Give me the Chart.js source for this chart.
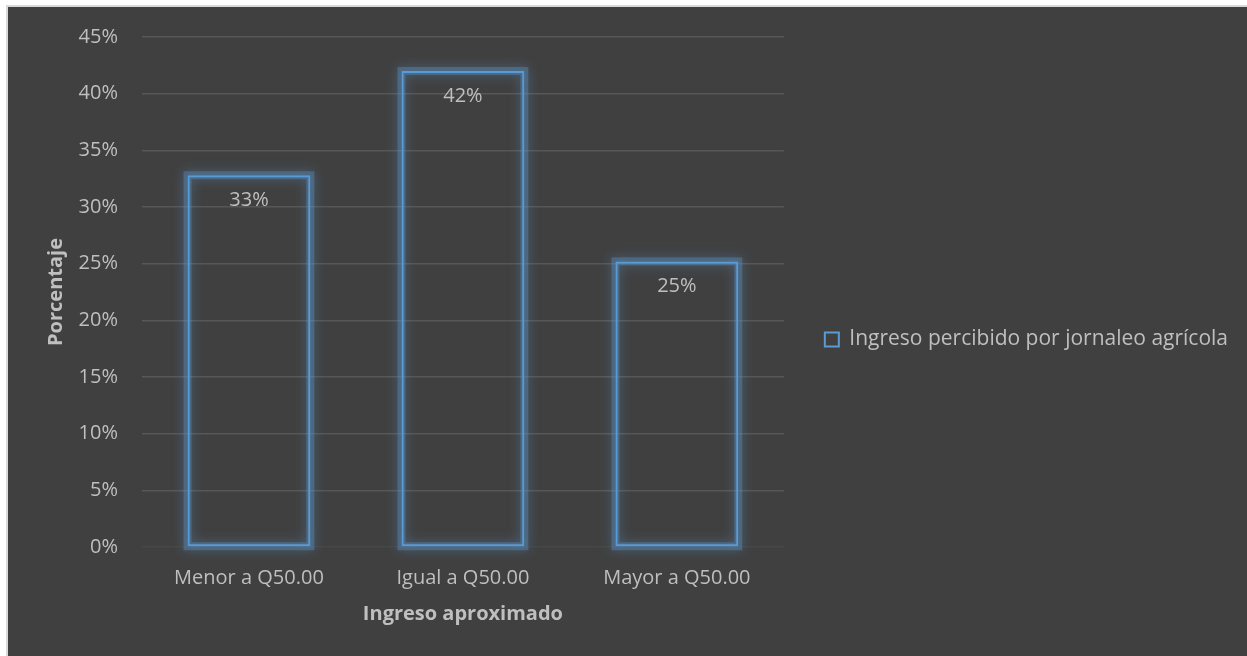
<!DOCTYPE html>
<html lang="es">
<head>
    <meta charset="UTF-8">
    <title>Ingreso percibido por jornaleo agrícola</title>
    <script src="https://cdn.jsdelivr.net/npm/chart.js"></script>
    <style>
        html, body { margin: 0; padding: 0; background: #ffffff; overflow: hidden; }
        #wrap {
            position: absolute; left: 6px; top: 5px;
            width: 1241px; height: 651px;
            border-left: 2px solid #d9d9d9; border-top: 2px solid #d9d9d9;
            background: #404040;
        }
    </style>
</head>
<body>
<div id="wrap"><canvas id="ingresoChart"></canvas></div>
<script>
    // datos
    var categorias = ['Menor a Q50.00', 'Igual a Q50.00', 'Mayor a Q50.00'];
    var porcentajes = [0.328, 0.420, 0.252];
    var etiquetas = ['33%', '42%', '25%'];
    var serieNombre = 'Ingreso percibido por jornaleo agrícola';

    var textColor = '#bfbfbf';
    var azul = '#5b9bd5';

    // resplandor alrededor de las barras + etiquetas de valor
    var glowPlugin = {
        id: 'glow',
        beforeDatasetsDraw: function(chart) {
            var ctx = chart.ctx;
            chart.getDatasetMeta(0).data.forEach(function(bar) {
                var p = bar.getProps(['x', 'y', 'base', 'width'], true);
                ctx.save();
                ctx.strokeStyle = 'rgba(91,155,213,0.35)';
                ctx.lineWidth = 8;
                ctx.shadowColor = 'rgba(91,155,213,1)';
                ctx.shadowBlur = 12;
                ctx.strokeRect(p.x - p.width / 2, p.y, p.width, p.base - p.y);
                ctx.restore();
            });
        },
        afterDatasetsDraw: function(chart) {
            var ctx = chart.ctx;
            ctx.save();
            ctx.fillStyle = textColor;
            ctx.font = '20px "Open Sans"';
            ctx.textAlign = 'center';
            ctx.textBaseline = 'middle';
            chart.getDatasetMeta(0).data.forEach(function(bar, i) {
                ctx.fillText(etiquetas[i], bar.x, bar.y + 25);
            });
            ctx.restore();
        }
    };

    var ctx = document.getElementById('ingresoChart').getContext('2d');
    var ingresoChart = new Chart(ctx, {
        type: 'bar',
        data: {
            labels: categorias,
            datasets: [{
                label: serieNombre,
                data: porcentajes,
                backgroundColor: 'rgba(0,0,0,0)',
                borderColor: azul,
                borderWidth: 2,
                borderSkipped: false,
                barPercentage: 0.574,
                categoryPercentage: 1
            }]
        },
        options: {
            responsive: true,
            maintainAspectRatio: false,
            animation: false,
            layout: { padding: { left: 36, top: 30, right: 11, bottom: 32 } },
            plugins: {
                tooltip: { enabled: false },
                legend: {
                    position: 'right',
                    maxWidth: 540,
                    title: { display: true, text: '', font: { size: 10 }, padding: { top: 2, bottom: 2 } },
                    labels: {
                        color: textColor,
                        font: { family: 'Open Sans', size: 21 },
                        boxWidth: 14,
                        boxHeight: 14,
                        padding: 41
                    }
                }
            },
            scales: {
                x: {
                    grid: { display: false, drawTicks: false },
                    border: { display: false },
                    ticks: { color: textColor, font: { family: 'Open Sans', size: 20 }, padding: 19 },
                    title: {
                        display: true, text: 'Ingreso aproximado', color: textColor,
                        font: { family: 'Open Sans', size: 20, weight: 'bold' }, padding: 0
                    },
                    afterFit: function(scale) { scale.height = 79; }
                },
                y: {
                    min: 0, max: 0.45,
                    grid: {
                        color: function(c) { return c.tick && c.tick.value === 0 ? '#474747' : '#575757'; },
                        lineWidth: 1.5, drawTicks: false
                    },
                    border: { display: false },
                    ticks: {
                        stepSize: 0.05, color: textColor, padding: 24,
                        font: { family: 'Open Sans', size: 20 },
                        callback: function(v) { return Math.round(v * 100) + '%'; }
                    },
                    title: {
                        display: true, text: 'Porcentaje', color: textColor,
                        font: { family: 'Open Sans', size: 20, weight: 'bold' }, padding: 0
                    },
                    afterFit: function(scale) { scale.width = 98; scale.paddingTop = 0; }
                }
            }
        },
        plugins: [glowPlugin]
    });
</script>
</body>
</html>
